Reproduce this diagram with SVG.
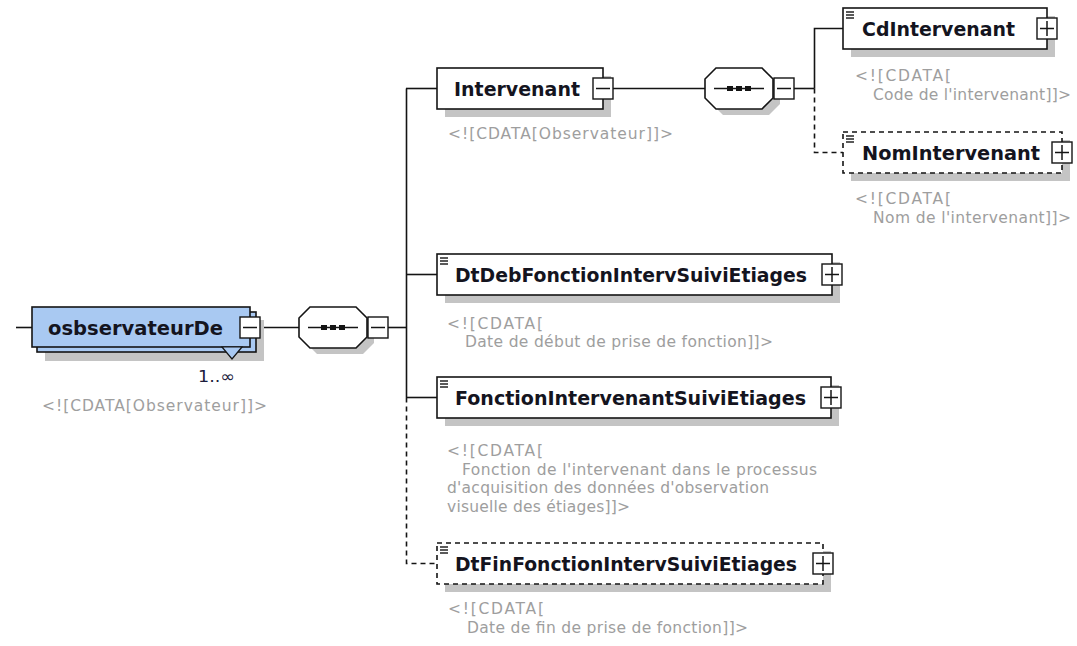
<svg xmlns="http://www.w3.org/2000/svg" xmlns:xlink="http://www.w3.org/1999/xlink" width="1077" height="646" viewBox="0 0 1077 646">
<style>
.bg{fill:#fff}
.box{fill:#fff;stroke:#141414;stroke-width:1.6}
.blue{fill:#a9c9f2;stroke:#141414;stroke-width:1.6}
.dash{stroke-dasharray:5 4}
.shadow{fill:#c4c4c4;stroke:none}
.btn{fill:#fff;stroke:#141414;stroke-width:1.4}
.sign{stroke:#141414;stroke-width:1.5;fill:none}
.name{font-family:"DejaVu Sans","Liberation Sans",sans-serif;font-weight:bold;font-size:19.5px;fill:#14141e}
.doc{font-family:"DejaVu Sans","Liberation Sans",sans-serif;font-size:15.5px;fill:#9e9e9e}
.occ{font-family:"DejaVu Sans","Liberation Sans",sans-serif;font-size:16px;fill:#1c1c3c}
.conn{stroke:#141414;stroke-width:1.6;fill:none}
.icon{stroke:#141414;stroke-width:1.4}
</style>
<defs>
<g id="minusBtn"><rect class="btn" x="0" y="0" width="20" height="21"/><line class="sign" x1="3" y1="10.5" x2="17" y2="10.5"/></g>
<g id="plusBtn"><rect class="btn" x="0" y="0" width="20" height="21"/><line class="sign" x1="3" y1="10.5" x2="17" y2="10.5"/><line class="sign" x1="10" y1="3" x2="10" y2="18"/></g>
<g id="docIcon"><line class="icon" x1="0" y1="0" x2="8" y2="0"/><line class="icon" x1="0" y1="3" x2="8" y2="3"/><line class="icon" x1="0" y1="6" x2="8" y2="6"/></g>
<g id="seqSym"><line class="conn" x1="10" y1="20.5" x2="60" y2="20.5"/><rect x="23" y="18" width="6" height="5" fill="#141414"/><rect x="32" y="18" width="6" height="5" fill="#141414"/><rect x="41" y="18" width="6" height="5" fill="#141414"/></g>
</defs>
<rect class="bg" x="0" y="0" width="1077" height="646"/>

<g id="connectors">
<line class="conn" x1="16" y1="327.5" x2="32" y2="327.5"/>
<line class="conn" x1="260" y1="327.5" x2="299" y2="327.5"/>
<line class="conn" x1="388" y1="327.5" x2="406.5" y2="327.5"/>
<line class="conn" x1="406.5" y1="88.5" x2="406.5" y2="397.5"/>
<line class="conn" x1="406" y1="88.5" x2="437" y2="88.5"/>
<line class="conn" x1="406" y1="274.5" x2="437" y2="274.5"/>
<line class="conn" x1="406" y1="397.5" x2="437" y2="397.5"/>
<polyline class="conn dash" points="406.5,397.5 406.5,563.5 437,563.5"/>
<line class="conn" x1="613" y1="88.5" x2="705" y2="88.5"/>
<line class="conn" x1="794" y1="88.5" x2="814.5" y2="88.5"/>
<polyline class="conn" points="843,28.5 814.5,28.5 814.5,88.5"/>
<polyline class="conn dash" points="814.5,88.5 814.5,152.5 843,152.5"/>
</g>

<g id="osbservateurDe">
<rect class="shadow" x="45" y="320" width="219" height="41"/>
<rect class="blue" x="37" y="312" width="219" height="40"/>
<rect class="blue" x="32" y="307" width="218" height="40"/>
<polygon points="222,347 242,347 232,359" fill="#a9c9f2" stroke="#141414" stroke-width="1.2"/>
<text class="name" x="48" y="334.5" textLength="175" lengthAdjust="spacingAndGlyphs">osbservateurDe</text>
<use xlink:href="#minusBtn" x="240" y="317"/>
<text class="occ" x="198" y="382" textLength="37" lengthAdjust="spacingAndGlyphs">1..∞</text>
<text class="doc" x="42" y="411" textLength="225">&lt;![CDATA[Observateur]]&gt;</text>
</g>

<g id="sequence1">
<polygon class="shadow" points="317,313 363,313 374,324 374,343 363,354 317,354 306,343 306,324"/>
<polygon class="box" points="310,307 356,307 367,318 367,337 356,348 310,348 299,337 299,318"/>
<use xlink:href="#seqSym" x="298" y="307"/>
<use xlink:href="#minusBtn" x="368" y="317"/>
</g>

<g id="Intervenant">
<rect class="shadow" x="445" y="76" width="166" height="41"/>
<rect class="box" x="437" y="68" width="166" height="41"/>
<text class="name" x="454" y="95.5" textLength="126" lengthAdjust="spacingAndGlyphs">Intervenant</text>
<use xlink:href="#minusBtn" x="593" y="78"/>
<text class="doc" x="448" y="139" textLength="225">&lt;![CDATA[Observateur]]&gt;</text>
</g>

<g id="sequence2">
<polygon class="shadow" points="723,74 769,74 780,85 780,104 769,115 723,115 712,104 712,85"/>
<polygon class="box" points="716,68 762,68 773,79 773,98 762,109 716,109 705,98 705,79"/>
<use xlink:href="#seqSym" x="704" y="68"/>
<use xlink:href="#minusBtn" x="774" y="78"/>
</g>

<g id="CdIntervenant">
<rect class="shadow" x="851" y="16" width="204" height="41"/>
<rect class="box" x="843" y="8" width="204" height="41"/>
<use xlink:href="#docIcon" x="846" y="12"/>
<text class="name" x="862" y="35.5" textLength="153" lengthAdjust="spacingAndGlyphs">CdIntervenant</text>
<use xlink:href="#plusBtn" x="1037" y="18"/>
<text class="doc" x="855" y="81" textLength="96">&lt;![CDATA[</text>
<text class="doc" x="873" y="100" textLength="198">Code de l'intervenant]]&gt;</text>
</g>

<g id="NomIntervenant">
<rect class="shadow" x="851" y="140" width="219" height="41"/>
<rect class="box dash" x="843" y="132" width="219" height="41"/>
<use xlink:href="#docIcon" x="846" y="136"/>
<text class="name" x="862" y="159.5" textLength="178" lengthAdjust="spacingAndGlyphs">NomIntervenant</text>
<use xlink:href="#plusBtn" x="1052" y="142"/>
<text class="doc" x="855" y="204" textLength="96">&lt;![CDATA[</text>
<text class="doc" x="873" y="223" textLength="198">Nom de l'intervenant]]&gt;</text>
</g>

<g id="DtDebFonctionIntervSuiviEtiages">
<rect class="shadow" x="445" y="262" width="395" height="41"/>
<rect class="box" x="437" y="254" width="395" height="41"/>
<use xlink:href="#docIcon" x="440" y="258"/>
<text class="name" x="455" y="281.5" textLength="352" lengthAdjust="spacingAndGlyphs">DtDebFonctionIntervSuiviEtiages</text>
<use xlink:href="#plusBtn" x="822" y="264"/>
<text class="doc" x="447" y="329" textLength="96">&lt;![CDATA[</text>
<text class="doc" x="465" y="347" textLength="308">Date de début de prise de fonction]]&gt;</text>
</g>

<g id="FonctionIntervenantSuiviEtiages">
<rect class="shadow" x="445" y="385" width="394" height="41"/>
<rect class="box" x="437" y="377" width="394" height="41"/>
<use xlink:href="#docIcon" x="440" y="381"/>
<text class="name" x="455" y="404.5" textLength="351" lengthAdjust="spacingAndGlyphs">FonctionIntervenantSuiviEtiages</text>
<use xlink:href="#plusBtn" x="821" y="387"/>
<text class="doc" x="447" y="456" textLength="96">&lt;![CDATA[</text>
<text class="doc" x="462" y="474.5" textLength="355">Fonction de l'intervenant dans le processus</text>
<text class="doc" x="447" y="493" textLength="322">d'acquisition des données d'observation</text>
<text class="doc" x="447" y="511.5" textLength="183">visuelle des étiages]]&gt;</text>
</g>

<g id="DtFinFonctionIntervSuiviEtiages">
<rect class="shadow" x="445" y="551" width="386" height="41"/>
<rect class="box dash" x="437" y="543" width="386" height="41"/>
<use xlink:href="#docIcon" x="440" y="547"/>
<text class="name" x="455" y="570.5" textLength="342" lengthAdjust="spacingAndGlyphs">DtFinFonctionIntervSuiviEtiages</text>
<use xlink:href="#plusBtn" x="813" y="553"/>
<text class="doc" x="448" y="614" textLength="96">&lt;![CDATA[</text>
<text class="doc" x="467" y="633" textLength="281">Date de fin de prise de fonction]]&gt;</text>
</g>
</svg>
